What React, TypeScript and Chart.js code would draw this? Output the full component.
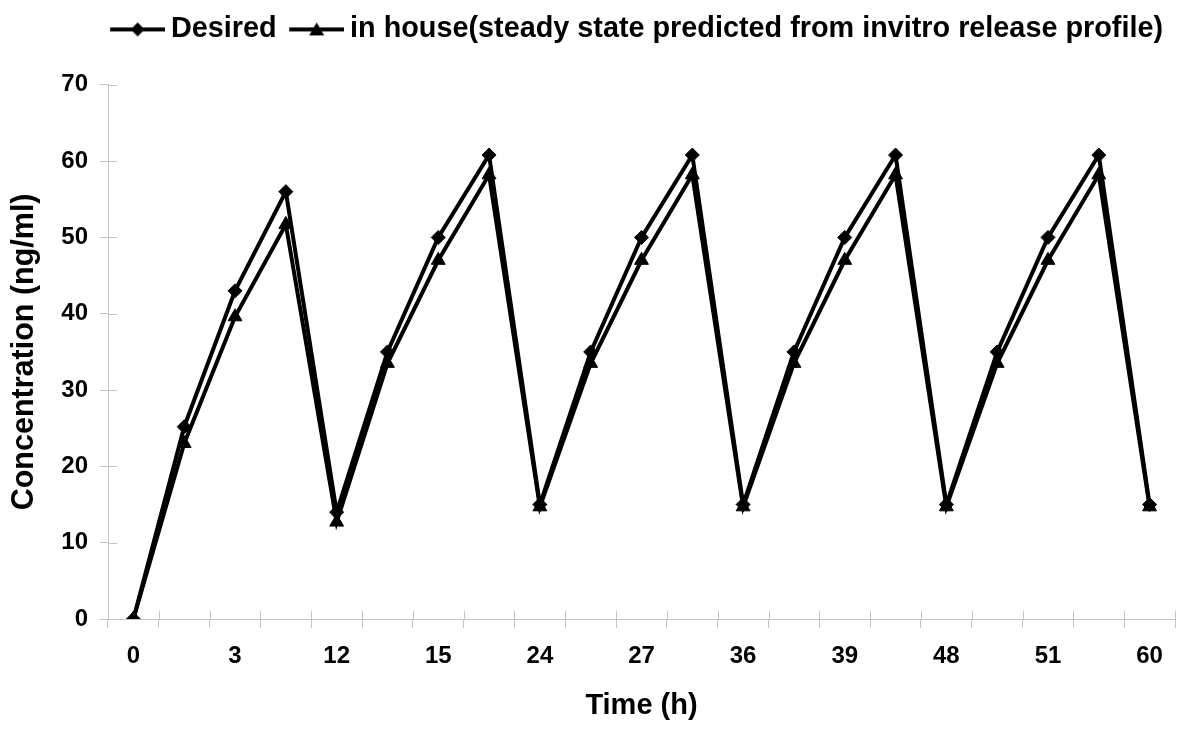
import React, { useEffect, useRef } from 'react';
import { Chart, registerables } from 'chart.js';

Chart.register(...registerables);

// Time categories (every other label is displayed on the axis)
const timeLabels = ['0', '1', '3', '6', '12', '13', '15', '18', '24', '25', '27', '30', '36', '37', '39', '42', '48', '49', '51', '54', '60'];
const desiredValues = [0, 25.2, 43, 56, 14, 35, 50, 60.8, 15, 35, 50, 60.8, 15, 35, 50, 60.8, 15, 35, 50, 60.8, 15];
const inHouseValues = [0, 23, 39.6, 51.7, 12.7, 33.5, 47, 58.2, 14.7, 33.5, 47, 58.2, 14.7, 33.5, 47, 58.2, 14.7, 33.5, 47, 58.2, 14.7];
const seriesNames = ['Desired', 'in house(steady state predicted from invitro release profile)'];
const yMin = 0;
const yMax = 70;
const yStep = 10;

const FONT = "'Liberation Sans', Arial, sans-serif";
const AXIS_COLOR = '#c4c4c4';
const LEGEND_EXTRA = 31;

function makeSample(kind: 'diamond' | 'triangle'): HTMLCanvasElement {
  const c = document.createElement('canvas');
  c.width = 64;
  c.height = 18;
  const ctx = c.getContext('2d')!;
  const x0 = 9;
  const cx = x0 + 27.5;
  ctx.strokeStyle = '#000';
  ctx.lineWidth = 4;
  ctx.beginPath();
  ctx.moveTo(x0, 9);
  ctx.lineTo(64, 9);
  ctx.stroke();
  ctx.fillStyle = '#000';
  ctx.beginPath();
  if (kind === 'diamond') {
    ctx.moveTo(cx, 2);
    ctx.lineTo(cx + 7, 9);
    ctx.lineTo(cx, 16);
    ctx.lineTo(cx - 7, 9);
  } else {
    ctx.moveTo(cx, 2);
    ctx.lineTo(cx + 7.5, 15);
    ctx.lineTo(cx - 7.5, 15);
  }
  ctx.closePath();
  ctx.fill();
  return c;
}

const innerTicks = {
  id: 'innerTicks',
  beforeDatasetsDraw(chart: any) {
    const { ctx, chartArea, scales } = chart;
    const xs = scales.x;
    const ys = scales.y;
    ctx.save();
    ctx.strokeStyle = AXIS_COLOR;
    ctx.lineWidth = 1;
    ctx.beginPath();
    ys.ticks.forEach((_: any, i: number) => {
      const py = Math.round(ys.getPixelForTick(i)) + 0.5;
      ctx.moveTo(chartArea.left, py);
      ctx.lineTo(chartArea.left + 9, py);
    });
    const n = xs.ticks.length;
    const step = n > 1 ? xs.getPixelForTick(1) - xs.getPixelForTick(0) : 0;
    for (let i = 0; i <= n; i++) {
      const px = Math.round(xs.getPixelForTick(0) + (i - 0.5) * step) + 0.5;
      ctx.moveTo(px, chartArea.bottom);
      ctx.lineTo(px, chartArea.bottom - 8);
    }
    ctx.stroke();
    ctx.restore();
  },
};

const legendGap = {
  id: 'legendGap',
  beforeUpdate(chart: any) {
    const lg = chart.legend;
    if (lg && !lg.__patched) {
      const orig = lg.fit.bind(lg);
      lg.fit = function () {
        orig();
        this.height += LEGEND_EXTRA;
      };
      lg.__patched = true;
    }
  },
};

export default function App() {
  const ref = useRef<HTMLCanvasElement | null>(null);

  useEffect(() => {
    document.body.style.margin = '0';
    const canvas = ref.current;
    if (!canvas) return;
    const samples = [makeSample('diamond'), makeSample('triangle')];

    const chart = new Chart(canvas, {
      type: 'line',
      data: {
        labels: timeLabels,
        datasets: [
          {
            label: seriesNames[0],
            data: desiredValues,
            borderColor: '#000',
            backgroundColor: '#000',
            borderWidth: 4,
            pointStyle: 'rectRot',
            pointRadius: 7,
            pointBorderWidth: 1,
            pointBackgroundColor: '#000',
            pointBorderColor: '#000',
            tension: 0,
          },
          {
            label: seriesNames[1],
            data: inHouseValues,
            borderColor: '#000',
            backgroundColor: '#000',
            borderWidth: 4,
            pointStyle: 'triangle',
            pointRadius: 8,
            pointBorderWidth: 1,
            pointBackgroundColor: '#000',
            pointBorderColor: '#000',
            tension: 0,
          },
        ],
      },
      options: {
        animation: false,
        responsive: false,
        maintainAspectRatio: false,
        layout: { padding: { top: 3, right: 25, bottom: 0, left: 0 } },
        plugins: {
          tooltip: { enabled: false },
          legend: {
            display: true,
            position: 'top',
            align: 'end',
            labels: {
              usePointStyle: true,
              pointStyleWidth: 47,
              padding: 12,
              color: '#000',
              font: { family: FONT, size: 28.8, weight: 'bold' },
              generateLabels: (c: any) =>
                c.data.datasets.map((ds: any, i: number) => ({
                  text: ds.label,
                  pointStyle: samples[i],
                  fillStyle: '#000',
                  strokeStyle: '#000',
                  lineWidth: 0,
                  hidden: false,
                  datasetIndex: i,
                  fontColor: '#000',
                })),
            },
          },
        },
        scales: {
          x: {
            type: 'category',
            offset: true,
            grid: {
              offset: true,
              drawOnChartArea: false,
              drawTicks: true,
              tickLength: 9,
              color: AXIS_COLOR,
            },
            border: { display: true, color: AXIS_COLOR, width: 1 },
            ticks: {
              autoSkip: false,
              maxRotation: 0,
              padding: 14,
              color: '#000',
              font: { family: FONT, size: 24, weight: 'bold' },
              callback: (_v: any, i: number) => (i % 2 === 0 ? timeLabels[i] : ''),
            },
            title: {
              display: true,
              text: 'Time (h)',
              color: '#000',
              font: { family: FONT, size: 29, weight: 'bold' },
              padding: { top: 0, bottom: 10 },
            },
            afterFit: (s: any) => {
              s.height = 114;
            },
          },
          y: {
            min: yMin,
            max: yMax,
            grid: {
              drawOnChartArea: false,
              drawTicks: true,
              tickLength: 8,
              color: AXIS_COLOR,
            },
            border: { display: true, color: AXIS_COLOR, width: 1 },
            ticks: {
              stepSize: yStep,
              padding: 12,
              color: '#000',
              font: { family: FONT, size: 24, weight: 'bold' },
            },
            title: {
              display: true,
              text: 'Concentration (ng/ml)',
              color: '#000',
              font: { family: FONT, size: 30.5, weight: 'bold' },
              padding: { top: 6, bottom: 0 },
            },
            afterFit: (s: any) => {
              s.width = 108;
            },
          },
        },
      },
      plugins: [innerTicks, legendGap],
    } as any);

    return () => {
      chart.destroy();
    };
  }, []);

  return (
    <div style={{ width: 1200, height: 733, background: '#fff' }}>
      <canvas ref={ref} width={1200} height={733} style={{ display: 'block' }} />
    </div>
  );
}
